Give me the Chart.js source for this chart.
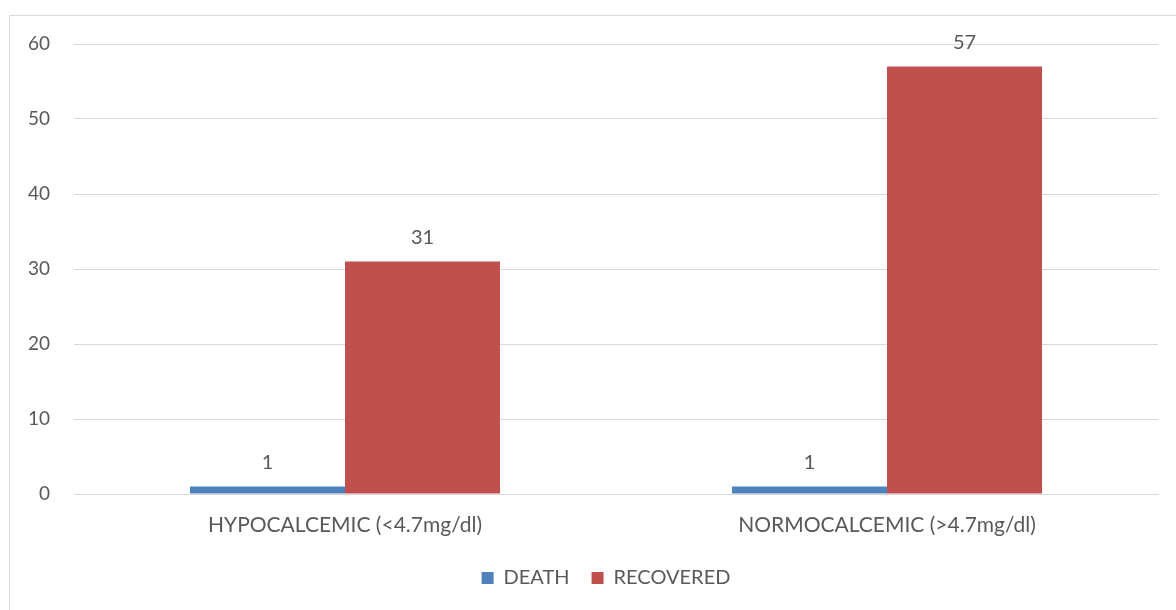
<!DOCTYPE html>
<html>
<head>
<meta charset="utf-8">
<script src="https://cdn.jsdelivr.net/npm/chart.js@4"></script>
<style>
  html, body { margin: 0; padding: 0; background: #fff; }
  #wrap { position: relative; width: 1176px; height: 610px; overflow: hidden; }
  canvas { position: absolute; left: 0; top: 0; }
</style>
</head>
<body>
<div id="wrap"><canvas id="c" width="1176" height="610"></canvas></div>
<script>
const categories = ['HYPOCALCEMIC (<4.7mg/dl)', 'NORMOCALCEMIC (>4.7mg/dl)'];
const deathValues = [1, 1];
const recoveredValues = [31, 57];
const yTicks = [0, 10, 20, 30, 40, 50, 60];

const TEXT = '#595959';
const FONT = 'Lato, "Open Sans", sans-serif';

// Outer frame around the chart
const framePlugin = {
  id: 'frame',
  beforeDraw(chart) {
    const ctx = chart.ctx;
    ctx.save();
    ctx.fillStyle = '#fff';
    ctx.fillRect(0, 0, chart.width, chart.height);
    ctx.strokeStyle = '#d9d9d9';
    ctx.lineWidth = 1;
    ctx.strokeRect(9.5, 15.5, 1200, 700);
    ctx.restore();
  }
};

// Nudge the legend row a little to the right of the canvas centre
const legendShift = {
  id: 'legendShift',
  afterLayout(chart) {
    const lg = chart.legend;
    if (lg) { lg.left += 22; lg.right += 22; }
  }
};

// Value labels above each bar
const valueLabels = {
  id: 'valueLabels',
  afterDatasetsDraw(chart) {
    const ctx = chart.ctx;
    ctx.save();
    ctx.fillStyle = TEXT;
    ctx.font = '20px ' + FONT;
    ctx.textAlign = 'center';
    ctx.textBaseline = 'middle';
    chart.data.datasets.forEach((ds, i) => {
      chart.getDatasetMeta(i).data.forEach((bar, j) => {
        ctx.fillText(String(ds.data[j]), bar.x, bar.y - 24);
      });
    });
    ctx.restore();
  }
};

new Chart(document.getElementById('c'), {
  type: 'bar',
  data: {
    labels: categories,
    datasets: [
      { label: 'DEATH', data: deathValues, backgroundColor: '#4F81BD' },
      { label: 'RECOVERED', data: recoveredValues, backgroundColor: '#C0504D' }
    ]
  },
  options: {
    responsive: false,
    animation: false,
    events: [],
    layout: { padding: { left: 10, right: 18, top: 44, bottom: 12 } },
    datasets: { bar: { categoryPercentage: 0.572, barPercentage: 1.0 } },
    scales: {
      x: {
        grid: { display: false, drawTicks: false },
        border: { display: true, color: '#d9d9d9', width: 1 },
        ticks: { color: TEXT, font: { family: FONT, size: 21 }, padding: 19, maxRotation: 0 },
        afterFit(s) { s.height = 52; }
      },
      y: {
        min: 0, max: 60,
        afterBuildTicks(s) { s.ticks = yTicks.map(v => ({ value: v })); },
        grid: { color: '#d9d9d9', lineWidth: 1, drawTicks: false },
        border: { display: false },
        ticks: { color: TEXT, font: { family: FONT, size: 19 }, padding: 24 },
        afterFit(s) { s.width = 64; }
      }
    },
    plugins: {
      legend: {
        position: 'bottom',
        labels: {
          color: TEXT,
          font: { family: FONT, size: 20 },
          boxWidth: 12, boxHeight: 12,
          padding: 22
        }
      },
      tooltip: { enabled: false }
    }
  },
  plugins: [framePlugin, legendShift, valueLabels]
});
</script>
</body>
</html>
